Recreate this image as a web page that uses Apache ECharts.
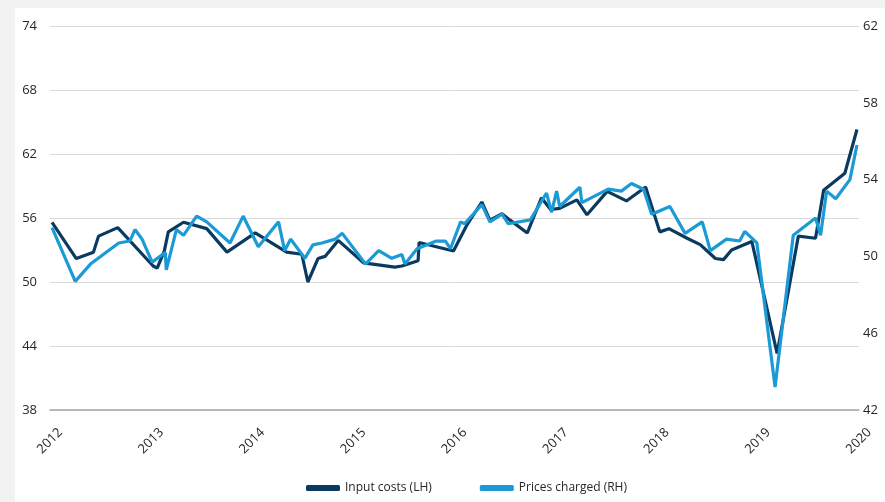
<!DOCTYPE html>
<html>
<head>
<meta charset="utf-8">
<script src="https://cdn.jsdelivr.net/npm/echarts@6/dist/echarts.min.js"></script>
<style>
  html, body { margin: 0; padding: 0; background: #f2f2f2; }
  #myChart { width: 885px; height: 502px; }
</style>
</head>
<body>
<div id="myChart"></div>
<script>
// input costs, left axis (decimal year, value)
var inputYears = [2012.02, 2012.26, 2012.43, 2012.48, 2012.67, 2013.02, 2013.06, 2013.13, 2013.17, 2013.32,
  2013.55, 2013.75, 2014.03, 2014.34, 2014.49, 2014.55, 2014.65, 2014.72, 2014.85, 2015.10,
  2015.41, 2015.48, 2015.64, 2015.65, 2015.99, 2016.12, 2016.27, 2016.35, 2016.47, 2016.55,
  2016.72, 2016.86, 2016.95, 2017.04, 2017.21, 2017.31, 2017.51, 2017.70, 2017.89, 2018.03,
  2018.12, 2018.30, 2018.43, 2018.58, 2018.66, 2018.74, 2018.94, 2019.19, 2019.40, 2019.57,
  2019.65, 2019.86, 2019.98];
var inputCosts = [55.6, 52.2, 52.8, 54.3, 55.1, 51.5, 51.3, 52.9, 54.7, 55.6,
  55.0, 52.8, 54.6, 52.8, 52.6, 50.0, 52.2, 52.4, 53.9, 51.8,
  51.4, 51.5, 52.0, 53.7, 52.9, 55.3, 57.5, 55.8, 56.4, 55.8,
  54.6, 57.9, 56.8, 56.9, 57.7, 56.3, 58.5, 57.6, 58.9, 54.7,
  55.0, 54.1, 53.5, 52.2, 52.1, 53.0, 53.8, 43.3, 54.3, 54.1,
  58.6, 60.2, 64.3];

// prices charged, right axis
var priceYears = [2012.02, 2012.25, 2012.40, 2012.68, 2012.79, 2012.84, 2012.91, 2013.01, 2013.14, 2013.15,
  2013.25, 2013.32, 2013.45, 2013.55, 2013.78, 2013.91, 2014.06, 2014.26, 2014.32, 2014.38,
  2014.52, 2014.60, 2014.69, 2014.82, 2014.89, 2015.12, 2015.25, 2015.38, 2015.48, 2015.51,
  2015.63, 2015.82, 2015.91, 2015.96, 2016.06, 2016.10, 2016.27, 2016.35, 2016.47, 2016.53,
  2016.75, 2016.91, 2016.96, 2017.01, 2017.04, 2017.24, 2017.26, 2017.52, 2017.65, 2017.75,
  2017.87, 2017.95, 2018.13, 2018.28, 2018.45, 2018.53, 2018.69, 2018.82, 2018.87, 2018.99,
  2019.17, 2019.35, 2019.57, 2019.62, 2019.68, 2019.77, 2019.91, 2019.98];
var pricesCharged = [51.5, 48.7, 49.6, 50.7, 50.8, 51.4, 50.9, 49.7, 50.2, 49.3,
  51.4, 51.1, 52.1, 51.8, 50.7, 52.1, 50.5, 51.8, 50.3, 50.9,
  49.9, 50.6, 50.7, 50.9, 51.2, 49.6, 50.3, 49.9, 50.1, 49.6,
  50.4, 50.8, 50.8, 50.4, 51.8, 51.7, 52.7, 51.8, 52.2, 51.7,
  51.9, 53.3, 52.3, 53.4, 52.6, 53.6, 52.8, 53.5, 53.4, 53.8,
  53.5, 52.2, 52.6, 51.2, 51.8, 50.3, 50.9, 50.8, 51.3, 50.7,
  43.2, 51.1, 52.0, 51.1, 53.4, 53.0, 54.0, 55.8];

var yearTicks = [2012, 2013, 2014, 2015, 2016, 2017, 2018, 2019, 2020];

function pairs(xs, ys) {
  var d = [];
  for (var i = 0; i < xs.length; i++) {
    d.push([xs[i], ys[i]]);
  }
  return d;
}

var font = "'Open Sans', sans-serif";
var myChart = echarts.init(document.getElementById('myChart'));

myChart.setOption({
  backgroundColor: '#f2f2f2',
  animation: false,
  graphic: [{
    type: 'rect',
    left: 15, top: 8,
    shape: { width: 870, height: 494 },
    style: { fill: '#ffffff' },
    z: -10
  }],
  grid: { left: 50, right: 26, top: 26, bottom: 92 },
  legend: {
    bottom: 3,
    left: 301,
    icon: 'roundRect',
    itemWidth: 34,
    itemHeight: 6,
    itemGap: 48,
    textStyle: { fontFamily: font, fontSize: 12, color: '#262626' },
    data: ['Input costs (LH)', 'Prices charged (RH)']
  },
  xAxis: {
    type: 'value',
    min: 2012,
    max: 2020,
    interval: 1,
    axisLine: { lineStyle: { color: '#a6a6a6', width: 1.5 } },
    axisTick: { show: false },
    splitLine: { show: false },
    axisLabel: {
      rotate: 45,
      align: 'center',
      verticalAlign: 'middle',
      margin: 31,
      fontFamily: font,
      fontSize: 13,
      color: '#262626',
      formatter: function (v) { return yearTicks.indexOf(v) >= 0 ? String(v) : ''; }
    }
  },
  yAxis: [{
    type: 'value',
    min: 38,
    max: 74,
    interval: 6,
    axisLine: { show: false },
    axisTick: { show: false },
    splitLine: { lineStyle: { color: '#d9d9d9', width: 1 } },
    axisLabel: { margin: 13, fontFamily: font, fontSize: 13, color: '#262626' }
  }, {
    type: 'value',
    min: 42,
    max: 62,
    interval: 4,
    position: 'right',
    axisLine: { show: false },
    axisTick: { show: false },
    splitLine: { show: false },
    axisLabel: { margin: 4, fontFamily: font, fontSize: 13, color: '#262626' }
  }],
  series: [{
    name: 'Input costs (LH)',
    type: 'line',
    yAxisIndex: 0,
    showSymbol: false,
    color: '#0b3a60',
    lineStyle: { width: 3.2, color: '#0b3a60' },
    z: 3,
    data: pairs(inputYears, inputCosts)
  }, {
    name: 'Prices charged (RH)',
    type: 'line',
    yAxisIndex: 1,
    showSymbol: false,
    color: '#1b9ad6',
    lineStyle: { width: 3.2, color: '#1b9ad6' },
    z: 4,
    data: pairs(priceYears, pricesCharged)
  }]
});
</script>
</body>
</html>
